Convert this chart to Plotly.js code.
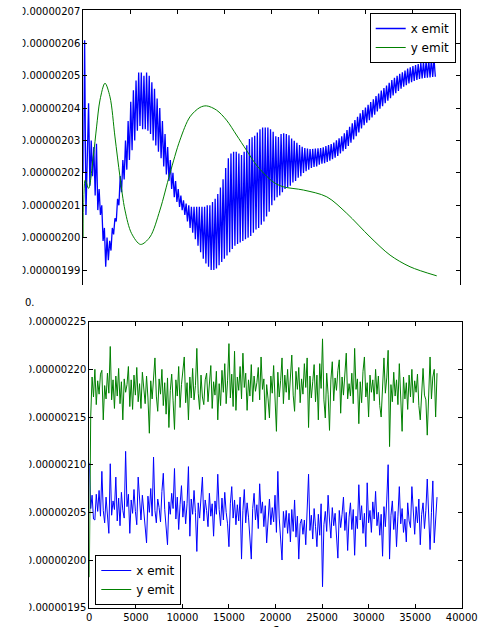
<!DOCTYPE html>
<html>
<head>
<meta charset="utf-8">
<script src="https://cdn.plot.ly/plotly-3.0.1.min.js"></script>
<style>
  html, body { margin: 0; padding: 0; background: #fff; overflow: hidden; }
  #chart { width: 485px; height: 627px; }
</style>
</head>
<body>
<div id="chart"></div>
<script>
// Emittance values are stored in units of 1e-8 and scaled when plotted.
const EMIT_UNIT = 1e-8;
const seriesNames = ['x emit', 'y emit'];
const xAxisLabel = 's';

// Upper panel: x emittance sampled every 140 in s (fast betatron-like wiggle)
const topStep = 140;
const xEmitTop = [
  202.0, 206.1, 200.7, 202.4, 204.15, 201.6, 203.0, 201.9, 202.8, 201.3,
  202.9, 200.85, 201.5, 200.7, 201.0, 199.9, 200.3, 199.1, 200.0, 199.3,
  199.9, 199.6, 200.3, 200.1, 200.6, 200.5, 201.2, 201.0, 201.9, 201.4,
  202.4, 201.8, 203.0, 202.1, 203.6, 202.4, 204.2, 202.7, 204.55, 203.0,
  204.85, 203.3, 205.1, 203.45, 205.1, 203.35, 205.0, 203.35, 205.1, 203.3,
  205.0, 203.2, 204.8, 203.0, 204.6, 202.85, 204.3, 202.65, 204.0, 202.45,
  203.6, 202.2, 203.2, 201.95, 202.8, 201.75, 202.4, 201.5, 202.0, 201.25,
  201.75, 201.1, 201.5, 200.95, 201.3, 200.85, 201.15, 200.7, 201.05, 200.5,
  201.0, 200.3, 200.95, 200.15, 200.95, 199.95, 200.95, 199.75, 200.95, 199.55,
  200.95, 199.35, 200.95, 199.2, 201.0, 199.1, 201.0, 199.0, 201.1, 199.0,
  201.2, 199.05, 201.35, 199.15, 201.55, 199.25, 201.8, 199.35, 202.15, 199.45,
  202.45, 199.55, 202.6, 199.65, 202.65, 199.75, 202.65, 199.8, 202.6, 199.85,
  202.55, 199.9, 202.65, 199.95, 202.85, 200.0, 203.05, 200.05, 203.1, 200.15,
  203.15, 200.25, 203.25, 200.3, 203.35, 200.4, 203.4, 200.5, 203.4, 200.65,
  203.4, 200.8, 203.35, 201.0, 203.27, 201.15, 203.13, 201.25, 203.11, 201.3,
  203.2, 201.4, 203.22, 201.5, 203.2, 201.55, 203.16, 201.6, 203.06, 201.7,
  202.99, 201.75, 202.93, 201.85, 202.86, 201.9, 202.81, 202.0, 202.77, 202.05,
  202.75, 202.1, 202.74, 202.15, 202.74, 202.18, 202.75, 202.2, 202.76, 202.25,
  202.77, 202.28, 202.79, 202.3, 202.83, 202.34, 202.86, 202.38, 202.89, 202.42,
  202.94, 202.47, 203.01, 202.52, 203.07, 202.6, 203.13, 202.67, 203.22, 202.74,
  203.32, 202.83, 203.42, 202.93, 203.53, 203.03, 203.63, 203.13, 203.73, 203.25,
  203.84, 203.37, 203.94, 203.47, 204.02, 203.55, 204.10, 203.63, 204.19, 203.71,
  204.27, 203.8, 204.37, 203.9, 204.45, 203.98, 204.54, 204.06, 204.62, 204.15,
  204.70, 204.23, 204.78, 204.31, 204.87, 204.39, 204.94, 204.46, 205.00, 204.53,
  205.06, 204.6, 205.11, 204.66, 205.16, 204.71, 205.22, 204.76, 205.26, 204.8,
  205.30, 204.84, 205.33, 204.87, 205.36, 204.9, 205.39, 204.92, 205.42, 204.93,
  205.45, 204.94, 205.48, 204.95, 205.50, 204.96, 205.52, 204.97
];

// Upper panel: y emittance (slow, smooth)
const yEmitTopS = [
  0, 212, 562, 1061, 1411, 1772, 2302, 2833, 3363, 3894,
  4424, 5125, 6080, 7077, 8137, 9199, 10260, 11321, 12382, 13082,
  14143, 15204, 16265, 17326, 18387, 20159, 21253, 23374, 25856, 27978,
  30451, 32573, 34695, 37528
];
const yEmitTop = [
  200.01, 201.78, 201.52, 202.50, 203.42, 204.25, 204.77, 204.35, 203.11, 201.88,
  200.85, 200.13, 199.79, 200.02, 200.85, 201.98, 203.01, 203.73, 204.02, 204.07,
  203.94, 203.63, 203.17, 202.70, 202.24, 201.72, 201.57, 201.47, 201.26, 200.75,
  200.02, 199.46, 199.10, 198.82
];

// Lower panel: both emittances sampled every 150 in s
const bottomStep = 150;
const xEmitBottom = [
  210.2, 205.4, 206.8, 204.3, 204.2, 206.9, 205.1, 207.3, 204.6, 209.3,
  205.2, 203.9, 206.6, 205.0, 202.8, 210.1, 204.7, 206.2, 205.3, 208.7,
  204.1, 206.5, 203.6, 207.1, 205.2, 204.4, 211.4, 205.6, 206.9, 202.8,
  206.3, 204.9, 207.4, 205.1, 203.7, 208.7, 205.9, 204.2, 206.8, 205.3,
  203.4, 201.8, 206.7, 205.0, 207.5, 204.6, 210.8, 205.2, 203.9, 206.4,
  205.5, 204.0, 207.2, 209.1, 205.3, 203.6, 201.6, 206.1, 204.8, 207.0,
  205.4, 209.6, 204.3, 206.6, 203.2, 205.8, 207.8, 204.5, 206.2, 203.8,
  205.9, 209.8, 202.5, 206.4, 204.8, 207.3, 205.0, 200.9, 206.0, 204.4,
  206.9, 208.7, 204.1, 206.3, 205.2, 203.5, 207.0, 204.6, 205.9, 202.5,
  206.2, 204.8, 209.0, 205.3, 203.6, 206.5, 204.2, 207.1, 205.0, 203.8,
  201.4, 205.9, 207.7, 204.4, 206.3, 203.7, 205.8, 204.1, 206.6, 200.1,
  205.2, 207.4, 203.9, 206.0, 204.5, 202.6, 200.1, 205.4, 207.0, 204.2,
  205.8, 203.3, 208.0, 204.9, 206.1, 203.5, 205.7, 201.8, 204.6, 206.4,
  203.7, 205.5, 204.0, 206.8, 202.9, 209.3, 204.4, 202.6, 200.0, 205.1,
  203.4, 205.2, 202.8, 204.9, 201.9, 205.3, 203.0, 206.3, 202.4, 204.6,
  200.1, 203.8, 204.3, 202.7, 204.2, 201.6, 204.6, 209.0, 203.1, 204.7,
  202.2, 205.4, 203.5, 201.4, 204.8, 202.6, 205.9, 197.2, 203.7, 205.1,
  203.0, 206.8, 204.2, 202.3, 205.5, 203.6, 204.9, 202.1, 200.2, 205.2,
  203.4, 204.8, 206.6, 203.1, 205.0, 201.0, 204.5, 206.0, 203.2, 205.3,
  200.5, 204.6, 203.3, 207.9, 204.2, 205.7, 202.8, 204.9, 201.4, 208.1,
  203.9, 205.2, 202.9, 206.1, 204.3, 207.2, 203.6, 205.0, 202.6, 204.8,
  200.4, 205.6, 203.5, 206.3, 210.0, 200.1, 204.7, 206.2, 203.2, 205.1,
  201.4, 204.6, 207.7, 203.8, 205.4, 202.9, 204.3, 201.9, 206.0, 204.1,
  203.4, 207.7, 204.6, 202.7, 205.6, 203.9, 206.4, 201.6, 204.8, 206.0,
  203.3, 205.2, 208.5, 203.6, 201.1, 205.0, 208.3, 201.8, 204.9, 206.6
];
const yEmitBottom = [
  198.2, 215.0, 219.2, 217.1, 220.0, 216.3, 218.8, 217.4, 219.5, 219.9,
  214.7, 218.3, 216.9, 219.6, 217.5, 222.4, 216.8, 218.9, 215.9, 219.3,
  217.2, 220.1, 216.4, 218.7, 214.7, 219.0, 217.6, 218.4, 220.3, 216.1,
  218.9, 215.8, 219.4, 217.3, 220.2, 216.6, 218.5, 215.9, 219.7, 217.8,
  216.4, 219.3, 217.0, 213.3, 218.8, 216.9, 219.6, 221.2, 217.2, 215.6,
  219.0, 217.4, 220.0, 216.2, 218.6, 215.3, 219.1, 213.9, 217.8, 219.5,
  216.7, 213.7, 218.9, 217.2, 220.3, 216.0, 218.4, 219.8, 221.3, 216.5,
  218.6, 214.7, 219.2, 217.0, 220.1, 216.8, 218.3, 222.2, 217.5, 215.8,
  219.4, 217.1, 216.3, 218.9, 219.6, 216.6, 218.2, 220.4, 215.9, 218.7,
  217.3, 219.8, 214.7, 218.5, 216.2, 219.9, 217.6, 220.6, 216.4, 218.8,
  222.7, 217.0, 219.5, 216.1, 221.9, 215.7, 219.2, 217.8, 220.3, 216.9,
  221.7, 218.1, 219.6, 215.7, 218.9, 217.2, 220.5, 216.6, 219.3, 217.7,
  218.6, 220.2, 216.8, 221.3, 217.9, 219.0, 214.7, 218.4, 216.9, 214.9,
  219.3, 217.5, 220.4, 216.3, 213.5, 219.7, 217.1, 218.8, 221.2, 216.4,
  219.4, 217.6, 220.0, 216.8, 218.9, 221.5, 217.3, 215.6, 219.8, 217.9,
  220.2, 216.5, 219.0, 217.4, 220.6, 218.1, 221.2, 213.9, 219.3, 217.0,
  218.7, 220.5, 216.6, 219.4, 214.7, 220.6, 218.0, 223.2, 216.8, 214.9,
  219.6, 217.4, 213.6, 218.9, 220.8, 216.7, 219.1, 217.8, 219.9, 221.0,
  215.4, 219.2, 217.3, 220.1, 221.7, 216.9, 218.5, 217.2, 219.6, 216.4,
  222.2, 217.9, 219.0, 214.3, 218.7, 216.5, 219.8, 221.3, 217.1, 218.6,
  215.0, 219.4, 217.6, 218.9, 216.7, 220.0, 217.4, 219.3, 216.2, 215.0,
  218.8, 221.2, 217.5, 219.1, 222.0, 211.9, 218.4, 216.6, 219.7, 217.2,
  218.9, 216.3, 220.6, 217.8, 213.5, 219.2, 216.9, 218.6, 215.8, 219.4,
  217.1, 220.0, 216.5, 218.8, 217.6, 219.5, 216.2, 214.7, 218.4, 220.1,
  217.3, 216.8, 213.1, 218.6, 221.3, 216.9, 219.2, 220.0, 215.0, 219.6
];

const BLUE = '#0000ff';
const GREEN = '#008000';
const W = 485, H = 627;

const scale = arr => arr.map(v => v * EMIT_UNIT);
const grid = (n, step) => Array.from({ length: n }, (_, i) => i * step);

const traces = [
  {
    x: grid(xEmitTop.length, topStep), y: scale(xEmitTop),
    xaxis: 'x', yaxis: 'y', name: seriesNames[0], legend: 'legend',
    type: 'scatter', mode: 'lines', line: { color: BLUE, width: 1.3 }
  },
  {
    x: yEmitTopS, y: scale(yEmitTop),
    xaxis: 'x', yaxis: 'y', name: seriesNames[1], legend: 'legend',
    type: 'scatter', mode: 'lines', line: { color: GREEN, width: 1, shape: 'spline', smoothing: 0.9 }
  },
  {
    x: grid(xEmitBottom.length, bottomStep), y: scale(xEmitBottom),
    xaxis: 'x2', yaxis: 'y2', name: seriesNames[0], legend: 'legend2',
    type: 'scatter', mode: 'lines', line: { color: BLUE, width: 1 }
  },
  {
    x: grid(yEmitBottom.length, bottomStep), y: scale(yEmitBottom),
    xaxis: 'x2', yaxis: 'y2', name: seriesNames[1], legend: 'legend2',
    type: 'scatter', mode: 'lines', line: { color: GREEN, width: 1 }
  }
];

const px = v => v / W;          // horizontal pixel -> paper
const py = v => 1 - v / H;      // vertical pixel -> paper

const axisBase = {
  showline: true, linecolor: '#000', linewidth: 1,
  ticks: 'inside', ticklen: 4, tickwidth: 1, tickcolor: '#000',
  showgrid: false, zeroline: false,
  tickfont: { family: 'DejaVu Sans', size: 10, color: '#000' }
};

const legendBase = {
  bgcolor: '#fff', bordercolor: '#000', borderwidth: 1,
  font: { family: 'DejaVu Sans', size: 12, color: '#000' },
  tracegroupgap: 0
};

const layout = {
  width: W, height: H,
  margin: { l: 0, r: 0, t: 0, b: 0 },
  paper_bgcolor: '#fff', plot_bgcolor: '#fff',
  font: { family: 'DejaVu Sans', size: 10, color: '#000' },
  xaxis: Object.assign({}, axisBase, {
    domain: [px(83.3), px(460)], anchor: 'y', side: 'top',
    range: [0, 40000], tick0: 0, dtick: 5000, showticklabels: false
  }),
  yaxis: Object.assign({}, axisBase, {
    domain: [py(285), py(10)], anchor: 'x', mirror: 'ticks',
    range: [198.537e-8, 207.031e-8], tick0: 0, dtick: 1e-8, tickformat: '.8f'
  }),
  xaxis2: Object.assign({}, axisBase, {
    domain: [px(89.3), px(461.7)], anchor: 'y2', mirror: 'ticks',
    range: [0, 40000], tick0: 0, dtick: 5000, tickformat: 'd'
  }),
  yaxis2: Object.assign({}, axisBase, {
    domain: [py(607.7), py(321.7)], anchor: 'x2', mirror: 'ticks',
    range: [195e-8, 225e-8], tick0: 0, dtick: 5e-8, tickformat: '.8f'
  }),
  legend: Object.assign({}, legendBase, {
    x: px(455.7), xanchor: 'right', y: py(13), yanchor: 'top'
  }),
  legend2: Object.assign({}, legendBase, {
    x: px(95.3), xanchor: 'left', y: py(605), yanchor: 'bottom'
  }),
  shapes: [
    { type: 'rect', xref: 'paper', yref: 'paper', layer: 'above',
      x0: 0, x1: px(22.7), y0: py(310), y1: 1,
      fillcolor: '#fff', line: { width: 0 } },
    { type: 'rect', xref: 'paper', yref: 'paper', layer: 'above',
      x0: 0, x1: px(29.3), y0: 0, y1: py(310),
      fillcolor: '#fff', line: { width: 0 } }
  ],
  annotations: [
    { text: '0.', xref: 'paper', yref: 'paper', x: px(22.7), y: py(302.5),
      xanchor: 'left', yanchor: 'middle', showarrow: false,
      font: { family: 'DejaVu Sans', size: 10, color: '#000' } },
    // x-axis label of the lower panel, sitting at the bottom edge
    { text: xAxisLabel, xref: 'paper', yref: 'paper', x: px(275.5), y: py(629),
      xanchor: 'center', yanchor: 'middle', showarrow: false,
      font: { family: 'DejaVu Sans', size: 12, color: '#000' } }
  ],
  showlegend: true
};

Plotly.newPlot('chart', traces, layout, { displayModeBar: false, staticPlot: true });
</script>
</body>
</html>
